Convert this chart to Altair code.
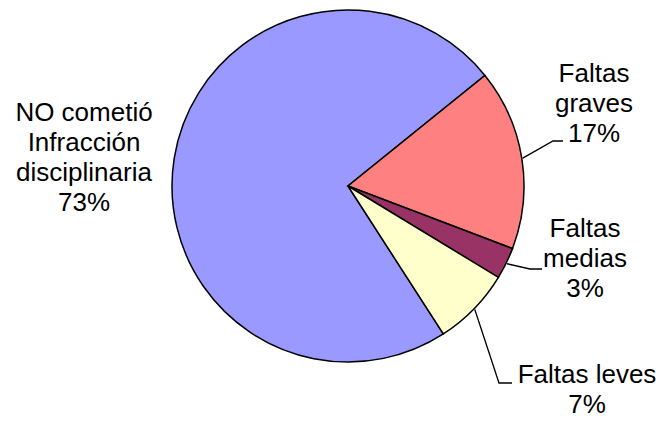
import math
import altair as alt
import pandas as pd

# ---- data ----
categories = ["NO cometió Infracción disciplinaria", "Faltas graves", "Faltas medias", "Faltas leves"]
label_lines = ["NO cometió\nInfracción\ndisciplinaria", "Faltas\ngraves", "Faltas\nmedias", "Faltas leves"]
values = [73.3, 16.6, 2.9, 7.2]
colors = ["#9999FF", "#FF8080", "#993366", "#FFFFCC"]

# ---- layout (view pixel coords; page = view + 8) ----
W, H = 652, 411
CX, CY, R = 340, 178, 176
START_DEG = 147.2
label_pos = [(76, 113), (586, 74), (577, 229), (579, 375)]   # centre x, first baseline y
leader_bends = [None, [(545, 133), (555, 133)], [(522, 261), (534, 261)], [(491, 375), (504, 375)]]

total = sum(values)
df = pd.DataFrame({"cat": categories, "value": values, "order": list(range(len(values)))})

a0 = math.radians(START_DEG)
pie = alt.Chart(df).mark_arc(outerRadius=R, stroke="black", strokeWidth=1.5).encode(
    theta=alt.Theta("value:Q", stack=True, scale=alt.Scale(range=[a0, a0 + 2 * math.pi])),
    color=alt.Color("cat:N", scale=alt.Scale(domain=categories, range=colors), legend=None),
    order=alt.Order("order:Q"),
    x=alt.value(CX), y=alt.value(CY),
)

# labels
lab_rows = []
for i, (txt, v) in enumerate(zip(label_lines, values)):
    lab_rows.append({"text": f"{txt}\n{round(v)}%", "lx": label_pos[i][0], "ly": label_pos[i][1]})
labels = alt.Chart(pd.DataFrame(lab_rows)).mark_text(
    font="Liberation Sans, Arial", fontSize=26, lineBreak="\n", lineHeight=30,
    align="center", baseline="alphabetic", color="black"
).encode(
    x=alt.X("lx:Q", scale=None), y=alt.Y("ly:Q", scale=None), text="text:N"
)

# leader lines, starting on the pie edge at each slice's mid-angle
rows = []
cum = 0.0
for i, v in enumerate(values):
    mid = a0 + 2 * math.pi * (cum + v / 2) / total
    cum += v
    if leader_bends[i] is None:
        continue
    pts = [(CX + (R + 1) * math.sin(mid), CY - (R + 1) * math.cos(mid))] + leader_bends[i]
    for k, (px, py) in enumerate(pts):
        rows.append({"leader": i, "k": k, "px": px, "py": py})
leaders = alt.Chart(pd.DataFrame(rows)).mark_line(color="black", strokeWidth=1.3).encode(
    x=alt.X("px:Q", scale=None), y=alt.Y("py:Q", scale=None),
    detail="leader:N", order="k:Q"
)

chart = alt.layer(pie, leaders, labels).properties(
    width=W, height=H, padding=0, autosize="none"
).configure_view(stroke=None)

chart.save("out.html", embed_options={"renderer": "svg", "actions": False})
